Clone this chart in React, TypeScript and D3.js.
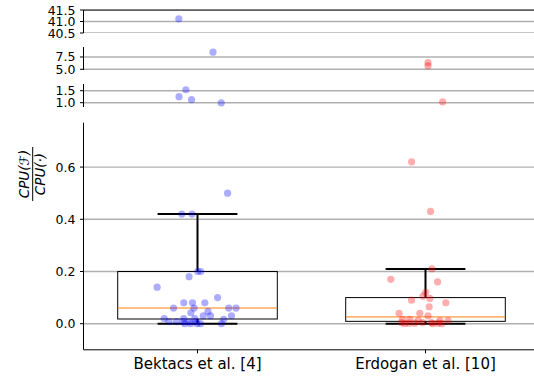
import React from "react";
import * as d3 from "d3";

const categories = ["Bektacs et al. [4]", "Erdogan et al. [10]"];

// jitter offsets (category units) and values
const bektacsJitter = [0.132, -0.069, -0.024, 0.001, 0.014, -0.037, -0.177, 0.088, -0.06, -0.022, 0.032, -0.105, -0.015, 0.137, 0.169, -0.029, 0.046, 0.025, 0.057, 0.149, -0.146, -0.06, -0.012, 0.115, -0.125, -0.092, -0.063, -0.037, -0.007, -0.056, -0.031, -0.002, 0.013, 0.105, -0.082, 0.068, -0.051, -0.081, -0.026, 0.104];
const bektacsValues = [0.5, 0.42, 0.42, 0.2, 0.2, 0.18, 0.14, 0.1, 0.08, 0.08, 0.08, 0.06, 0.06, 0.06, 0.06, 0.042, 0.047, 0.03, 0.03, 0.03, 0.02, 0.02, 0.02, 0.017, 0.008, 0.008, 0.008, 0.008, 0.008, 0.0, 0.0, 0.0, 0.0, 0.0, 41.11, 8.48, 1.54, 1.25, 1.125, 0.99];

const erdoganJitter = [-0.061, 0.022, 0.028, -0.152, 0.053, 0.001, -0.011, 0.019, -0.061, 0.089, 0.016, -0.116, -0.025, 0.011, -0.101, -0.069, -0.032, 0.063, 0.099, -0.105, -0.072, -0.047, -0.013, 0.026, 0.055, -0.091, 0.032, 0.071, 0.011, 0.011, 0.075];
const erdoganValues = [0.62, 0.43, 0.21, 0.17, 0.16, 0.12, 0.106, 0.097, 0.09, 0.08, 0.065, 0.04, 0.04, 0.03, 0.017, 0.017, 0.012, 0.012, 0.012, 0.004, 0.002, 0.002, 0.004, 0.004, 0.002, 0.0, 0.0, 0.0, 6.35, 5.68, 1.03];

// box statistics
const boxWhiskerLow = [0.0, 0.0];
const boxQ1 = [0.018, 0.009];
const boxMedian = [0.06, 0.026];
const boxQ3 = [0.2, 0.1];
const boxWhiskerHigh = [0.42, 0.21];

// broken-axis panels
const panelDomains: [number, number][] = [
  [40.5, 41.5],
  [4.86, 9.53],
  [0.82, 1.78],
  [-0.1, 0.77],
];
const panelTicks = [
  [41.5, 41.0, 40.5],
  [7.5, 5.0],
  [1.5, 1.0],
  [0.0, 0.2, 0.4, 0.6],
];
const panelRanges: [number, number][] = [
  [33, 10],
  [70, 47],
  [107, 84],
  [349.8, 122.7],
];

const groupColors = ["#0000ff", "#ff0000"];

export default function App() {
  const W = 534;
  const H = 378;
  const left = 83.5;
  const x = d3.scaleLinear().domain([0.5, 2.5]).range([left, 539.5]);
  const groups = [
    { jitter: bektacsJitter, values: bektacsValues },
    { jitter: erdoganJitter, values: erdoganValues },
  ];
  const fmt = d3.format(".1f");
  const font = "DejaVu Sans, sans-serif";
  const unit = x(2) - x(1);

  return (
    <svg width={W} height={H} style={{ position: "absolute", left: 0, top: 0 }} fontFamily={font}>
      <defs>
        {panelRanges.map((r, i) => (
          <clipPath id={`clip${i}`} key={i}>
            <rect x={left} y={r[1]} width={W - left} height={r[0] - r[1]} />
          </clipPath>
        ))}
      </defs>
      {panelDomains.map((dom, pi) => {
        const y = d3.scaleLinear().domain(dom).range(panelRanges[pi]);
        const isMain = pi === 3;
        return (
          <g key={pi}>
            <g clipPath={`url(#clip${pi})`}>
              {panelTicks[pi].map((t) => (
                <line key={t} x1={left} x2={W} y1={y(t)} y2={y(t)} stroke="#b0b0b0" strokeWidth={1.4} />
              ))}
              {isMain &&
                categories.map((c, gi) => {
                  const cx = x(gi + 1);
                  const bw = unit * 0.7;
                  const cw = unit * 0.35;
                  return (
                    <g key={c}>
                      <line x1={cx} x2={cx} y1={y(boxQ3[gi])} y2={y(boxWhiskerHigh[gi])} stroke="#000" strokeWidth={2} />
                      <line x1={cx} x2={cx} y1={y(boxQ1[gi])} y2={y(boxWhiskerLow[gi])} stroke="#000" strokeWidth={2} />
                      <line x1={cx - cw / 2} x2={cx + cw / 2} y1={y(boxWhiskerHigh[gi])} y2={y(boxWhiskerHigh[gi])} stroke="#000" strokeWidth={2} />
                      <line x1={cx - cw / 2} x2={cx + cw / 2} y1={y(boxWhiskerLow[gi])} y2={y(boxWhiskerLow[gi])} stroke="#000" strokeWidth={2} />
                      <rect x={cx - bw / 2} y={y(boxQ3[gi])} width={bw} height={y(boxQ1[gi]) - y(boxQ3[gi])} fill="none" stroke="#000" strokeWidth={1} />
                      <line x1={cx - bw / 2} x2={cx + bw / 2} y1={y(boxMedian[gi])} y2={y(boxMedian[gi])} stroke="#ff7f0e" strokeWidth={1} />
                    </g>
                  );
                })}
              {groups.map((g, gi) =>
                g.values.map((v, k) => (
                  <circle key={`${gi}-${k}`} cx={x(gi + 1 + g.jitter[k])} cy={y(v)} r={3.6} fill={groupColors[gi]} fillOpacity={0.32} />
                ))
              )}
            </g>
            {/* left spine */}
            <line x1={left} x2={left} y1={panelRanges[pi][0]} y2={panelRanges[pi][1]} stroke="#000" strokeWidth={1} />
            {pi === 0 && <line x1={left} x2={W} y1={panelRanges[0][1]} y2={panelRanges[0][1]} stroke="#000" strokeWidth={1} />}
            {panelTicks[pi].map((t) => (
              <g key={t}>
                <line x1={left - 3.5} x2={left} y1={y(t)} y2={y(t)} stroke="#000" strokeWidth={1} />
                <text x={left - 8} y={y(t)} dy="0.36em" textAnchor="end" fontSize={12.5} fill="#000">
                  {fmt(t)}
                </text>
              </g>
            ))}
          </g>
        );
      })}
      {/* bottom axis */}
      <line x1={left} x2={W} y1={349.8} y2={349.8} stroke="#000" strokeWidth={1} />
      {categories.map((c, gi) => (
        <g key={c}>
          <line x1={x(gi + 1)} x2={x(gi + 1)} y1={349.8} y2={353.3} stroke="#000" strokeWidth={1} />
          <text x={x(gi + 1)} y={369} textAnchor="middle" fontSize={15} fill="#000">
            {c}
          </text>
        </g>
      ))}
      {/* y label fraction */}
      <g transform="translate(32.7,174) rotate(-90)">
        <text x={0} y={-3.5} textAnchor="middle" fontSize={13.5} fontStyle="italic" fill="#000">
          CPU(ℱ)
        </text>
        <line x1={-27} x2={27} y1={0} y2={0} stroke="#000" strokeWidth={1} />
        <text x={0} y={12.5} textAnchor="middle" fontSize={13.5} fontStyle="italic" fill="#000">
          CPU(·)
        </text>
      </g>
    </svg>
  );
}
